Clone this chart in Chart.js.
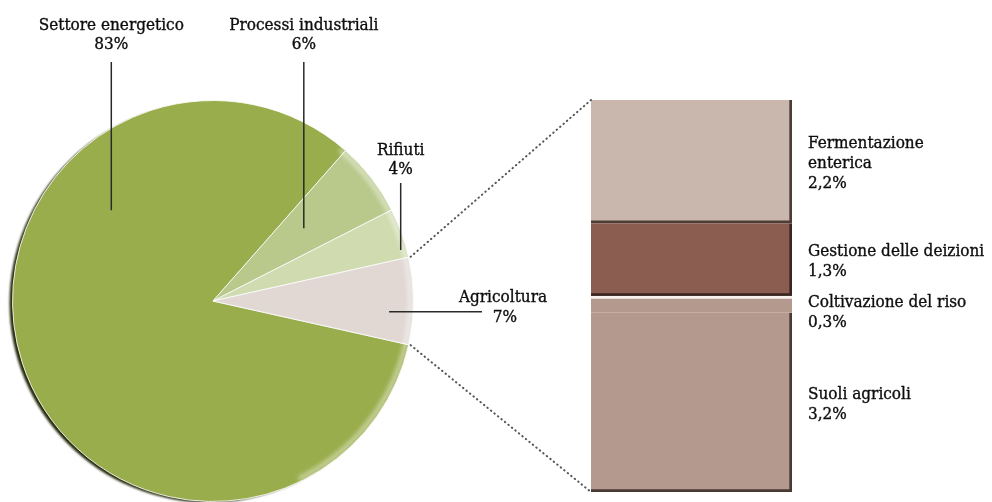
<!DOCTYPE html>
<html lang="it">
<head>
<meta charset="UTF-8">
<title>Emissioni per settore</title>
<script src="https://cdn.jsdelivr.net/npm/chart.js"></script>
<style>
  body { margin: 0; background: #fff; }
  #wrap { position: relative; width: 992px; height: 502px; }
  #wrap canvas { position: absolute; left: 0; top: 0; }
</style>
</head>
<body>
<div id="wrap">
  <canvas id="pieChart" width="992" height="502"></canvas>
  <canvas id="barChart" width="992" height="502"></canvas>
</div>
<script>
// Ripartizione per settore (%)
const settori = ['Settore energetico', 'Processi industriali', 'Rifiuti', 'Agricoltura'];
const quote = [83, 6, 4, 7];
const coloriSettori = ['#9aad4c', '#b9c98c', '#d0dbaf', '#e1d8d4'];

// Dettaglio agricoltura (%), dal basso verso l'alto
const vociAgri = [['Suoli agricoli'], ['Coltivazione del riso'], ['Gestione delle deizioni'], ['Fermentazione', 'enterica']];
const quoteAgri = [3.2, 0.3, 1.3, 2.2];
const coloriAgri = ['#b3998e', '#b3998e', '#8b5c50', '#c9b6ac'];
const bordiAgri = ['#4a3a34', '#f7f1ee', '#3a2621', '#4d3d36'];

const FONT = '17px "DejaVu Serif Condensed", "Liberation Serif", serif';
const pct = v => v.toLocaleString('it-IT', { maximumFractionDigits: 1, minimumFractionDigits: Number.isInteger(v) ? 0 : 1 }) + '%';

// testo leggermente ripassato per renderlo più pieno
function scrivi(ctx, s, x, y) {
  ctx.fillText(s, x, y);
  ctx.strokeText(s, x, y);
}

// posizione etichette della torta: frac = punto lungo la fetta, rad = frazione del raggio
const layoutPie = [
  { frac: 0.70, rad: 0.68, ty: 30, ly: 62 },
  { frac: 0.46, rad: 0.58, ty: 30, ly: 62 },
  { frac: 0.82, rad: 0.97, ty: 155, ly: 183 },
  { frac: 0.64, rad: 0.88, ty: 302, lx: 482, tx: 503, horiz: true }
];

const etichettePie = {
  id: 'etichettePie',
  beforeDatasetsDraw(chart) {
    const a = chart.getDatasetMeta(0).data[0];
    const ctx = chart.ctx;
    ctx.save();
    ctx.filter = 'blur(1px)';
    ctx.fillStyle = '#262a0c';
    ctx.beginPath();
    ctx.arc(a.x - 4, a.y + 2, a.outerRadius - 1, 0, Math.PI * 2);
    ctx.fill();
    ctx.restore();
  },
  afterDatasetsDraw(chart) {
    const ctx = chart.ctx;
    const arcs = chart.getDatasetMeta(0).data;
    const c = arcs[0];

    // riflesso chiaro sul bordo destro
    ctx.save();
    ctx.filter = 'blur(2px)';
    ctx.strokeStyle = 'rgba(255,255,255,0.45)';
    ctx.lineWidth = 5;
    ctx.beginPath();
    ctx.arc(c.x, c.y, c.outerRadius - 3, -Math.PI / 3.6, Math.PI / 2.8);
    ctx.stroke();
    ctx.restore();

    ctx.save();
    ctx.font = FONT;
    ctx.fillStyle = '#0e0e0e';
    ctx.textAlign = 'center';
    arcs.forEach((arc, i) => {
      const L = layoutPie[i];
      const ang = arc.startAngle + L.frac * (arc.endAngle - arc.startAngle);
      const ax = arc.x + Math.cos(ang) * arc.outerRadius * L.rad;
      const ay = arc.y + Math.sin(ang) * arc.outerRadius * L.rad;
      ctx.strokeStyle = '#2a2a2a';
      ctx.lineWidth = 1.5;
      ctx.beginPath();
      if (L.horiz) {
        ctx.moveTo(ax, ay);
        ctx.lineTo(L.lx, ay);
      } else {
        ctx.moveTo(ax, L.ly);
        ctx.lineTo(ax, ay);
      }
      ctx.stroke();
      ctx.strokeStyle = '#0e0e0e';
      ctx.lineWidth = 0.35;
      const tx = L.horiz ? L.tx : ax;
      scrivi(ctx, settori[i], tx, L.ty);
      scrivi(ctx, pct(quote[i]), L.horiz ? tx + 2 : tx, L.ty + (L.horiz ? 20 : 19));
    });
    ctx.restore();
  }
};

const pieChart = new Chart(document.getElementById('pieChart'), {
  type: 'pie',
  data: {
    labels: settori,
    datasets: [{
      data: quote,
      backgroundColor: coloriSettori,
      borderColor: 'rgba(255,255,255,0.85)',
      borderWidth: 1
    }]
  },
  options: {
    responsive: false,
    animation: false,
    rotation: 102.6,
    layout: { padding: { left: 12, top: 100, right: 578, bottom: 0 } },
    plugins: { legend: { display: false }, tooltip: { enabled: false } }
  },
  plugins: [etichettePie]
});

const etichetteAgri = {
  id: 'etichetteAgri',
  afterDraw(chart) {
    const ctx = chart.ctx;
    const bars = chart.data.datasets.map((d, i) => chart.getDatasetMeta(i).data[0]);

    // linee tratteggiate dalla fetta agricoltura alla colonna
    const agri = pieChart.getDatasetMeta(0).data[3];
    const top = bars[bars.length - 1];
    const bottom = bars[0];
    const left = top.x - top.width / 2;
    ctx.save();
    ctx.strokeStyle = '#555';
    ctx.lineWidth = 2;
    ctx.lineCap = 'round';
    ctx.setLineDash([0.5, 4]);
    [[agri.startAngle, top.y], [agri.endAngle, bottom.base]].forEach(([ang, yb]) => {
      ctx.beginPath();
      ctx.moveTo(agri.x + Math.cos(ang) * (agri.outerRadius + 2), agri.y + Math.sin(ang) * (agri.outerRadius + 2));
      ctx.lineTo(left, yb);
      ctx.stroke();
    });
    ctx.restore();

    // etichette a destra, centrate sui segmenti dall'alto verso il basso
    ctx.save();
    ctx.font = FONT;
    ctx.fillStyle = '#0e0e0e';
    ctx.strokeStyle = '#0e0e0e';
    ctx.lineWidth = 0.35;
    ctx.textAlign = 'left';
    const x = top.x + top.width / 2 + 16;
    const lh = 20, cap = 13;
    let minTop = 0;
    for (let i = bars.length - 1; i >= 0; i--) {
      const b = bars[i];
      const lines = vociAgri[i].concat([pct(quoteAgri[i])]);
      const h = cap + (lines.length - 1) * lh;
      let t = (b.y + b.base) / 2 - h / 2;
      t = Math.max(t, minTop);
      lines.forEach((s, k) => scrivi(ctx, s, x, t + cap + k * lh));
      minTop = t + h + 18;
    }
    ctx.restore();
  }
};

new Chart(document.getElementById('barChart'), {
  type: 'bar',
  data: {
    labels: ['Agricoltura'],
    datasets: quoteAgri.map((v, i) => ({
      label: vociAgri[i].join(' '),
      data: [v],
      backgroundColor: coloriAgri[i],
      borderColor: bordiAgri[i],
      borderWidth: i === 1 ? { top: 3, right: 0, bottom: 0, left: 0 } : { top: 0, right: 3, bottom: 3, left: 0 },
      borderSkipped: false,
      barPercentage: 1,
      categoryPercentage: 1
    }))
  },
  options: {
    responsive: false,
    animation: false,
    layout: { padding: { left: 591, right: 200, top: 100, bottom: 10 } },
    scales: {
      x: { display: false, stacked: true },
      y: { display: false, stacked: true, min: 0, max: 7 }
    },
    plugins: { legend: { display: false }, tooltip: { enabled: false } }
  },
  plugins: [etichetteAgri]
});
</script>
</body>
</html>
